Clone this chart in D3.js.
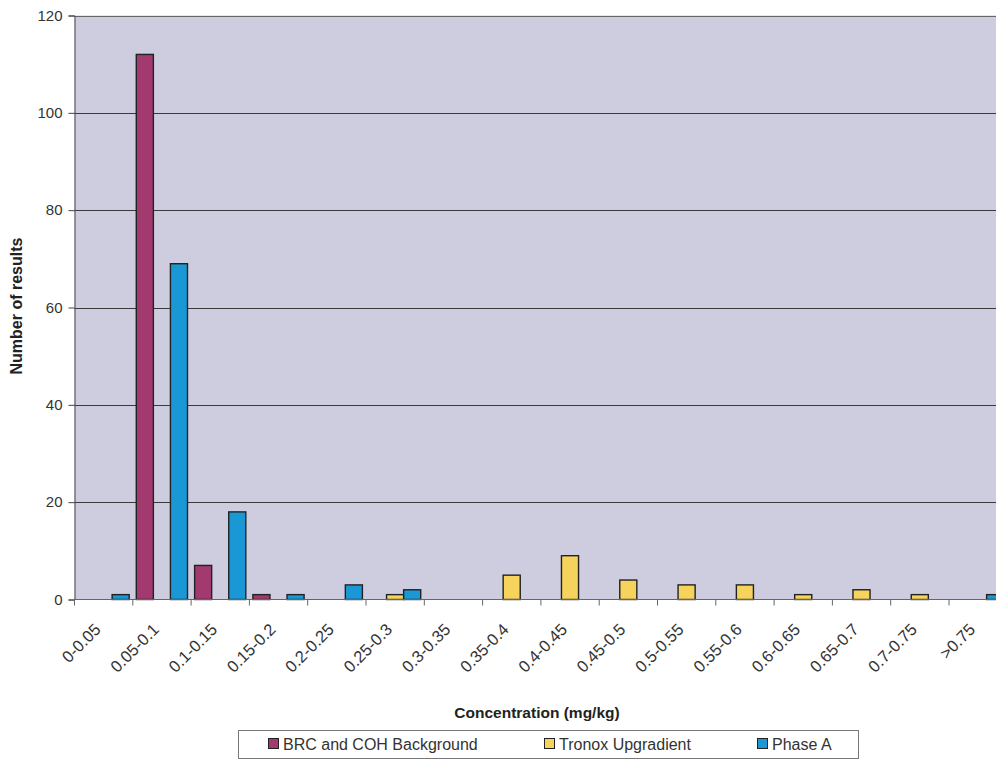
<!DOCTYPE html>
<html>
<head>
<meta charset="utf-8">
<script src="https://cdn.jsdelivr.net/npm/d3@7"></script>
<style>
  html, body { margin: 0; padding: 0; background: #fff; }
  svg { display: block; font-family: "Liberation Sans", Arial, sans-serif; }
</style>
</head>
<body>
<svg id="chart" width="996" height="760"></svg>
<script>
// Concentration bins (mg/kg)
const categories = ["0-0.05", "0.05-0.1", "0.1-0.15", "0.15-0.2", "0.2-0.25", "0.25-0.3",
  "0.3-0.35", "0.35-0.4", "0.4-0.45", "0.45-0.5", "0.5-0.55", "0.55-0.6",
  "0.6-0.65", "0.65-0.7", "0.7-0.75", ">0.75"];

// Number of results per bin for each dataset
const brcBackground = [0, 112, 7, 1, 0, 0, 0, 0, 0, 0, 0, 0, 0, 0, 0, 0];
const tronoxUpgradient = [0, 0, 0, 0, 0, 1, 0, 5, 9, 4, 3, 3, 1, 2, 1, 0];
const phaseA = [1, 69, 18, 1, 3, 2, 0, 0, 0, 0, 0, 0, 0, 0, 0, 1];

const seriesNames = ["BRC and COH Background", "Tronox Upgradient", "Phase A"];
const seriesColors = ["#a23a70", "#f6d35c", "#1a98d6"];
const yTicks = [0, 20, 40, 60, 80, 100, 120];

const series = [brcBackground, tronoxUpgradient, phaseA];

const svg = d3.select("#chart");

const plotLeft = 74.5, plotTop = 15.5, plotBottom = 599.5;
const catWidth = 58.3;
const plotRight = plotLeft + catWidth * categories.length;

const x0 = d3.scaleBand().domain(categories).range([plotLeft, plotRight]).padding(0);
const x1 = d3.scaleBand().domain(d3.range(series.length)).range([3.5, catWidth - 3.6]).padding(0);
const y = d3.scaleLinear().domain([0, 120]).range([plotBottom, plotTop]);

// plot area background
svg.append("rect")
  .attr("x", plotLeft).attr("y", plotTop)
  .attr("width", plotRight - plotLeft).attr("height", plotBottom - plotTop)
  .attr("fill", "#cdcddf");

// horizontal gridlines
svg.append("g")
  .selectAll("line")
  .data(yTicks.filter(t => t > 0))
  .join("line")
  .attr("x1", plotLeft).attr("x2", plotRight)
  .attr("y1", d => Math.round(y(d)) + 0.5).attr("y2", d => Math.round(y(d)) + 0.5)
  .attr("stroke", d => d === 120 ? "#666" : "#3a3a3a")
  .attr("stroke-width", 1);

// bars
const groups = svg.append("g")
  .selectAll("g")
  .data(categories)
  .join("g")
  .attr("transform", d => `translate(${x0(d)},0)`);

groups.selectAll("rect")
  .data((d, i) => series.map((s, k) => ({ k, v: s[i] })).filter(e => e.v > 0))
  .join("rect")
  .attr("x", e => x1(e.k))
  .attr("width", x1.bandwidth())
  .attr("y", e => y(e.v))
  .attr("height", e => y(0) - y(e.v))
  .attr("fill", e => seriesColors[e.k])
  .attr("stroke", "#222")
  .attr("stroke-width", 1.4);

// y axis
const yAxis = d3.axisLeft(y).tickValues(yTicks).tickSize(6).tickPadding(6).tickFormat(d3.format("d"));
const gy = svg.append("g").attr("transform", `translate(${plotLeft},0)`).call(yAxis);
gy.select(".domain").attr("stroke", "#444");
gy.selectAll(".tick line").attr("stroke", "#444");
gy.selectAll(".tick text").attr("font-size", 15).attr("fill", "#333")
  .attr("font-family", "'Liberation Sans', Arial, sans-serif");

// x axis with ticks between categories
const gx = svg.append("g").attr("transform", `translate(0,${plotBottom})`);
gx.append("line")
  .attr("x1", plotLeft).attr("x2", plotRight)
  .attr("stroke", "#666");
gx.selectAll("line.tk")
  .data(d3.range(categories.length + 1))
  .join("line")
  .attr("class", "tk")
  .attr("x1", i => plotLeft + i * catWidth).attr("x2", i => plotLeft + i * catWidth)
  .attr("y1", 0).attr("y2", 6)
  .attr("stroke", "#666");
gx.selectAll("text")
  .data(categories)
  .join("text")
  .attr("transform", d => `translate(${x0(d) + x0.bandwidth() / 2 - 6},${27}) rotate(-45)`)
  .attr("text-anchor", "end")
  .attr("dy", "0.35em")
  .attr("font-size", 16.5)
  .attr("fill", "#333")
  .text(d => d);

// axis titles
svg.append("text")
  .attr("x", 537).attr("y", 718)
  .attr("text-anchor", "middle")
  .attr("font-size", 15.5).attr("font-weight", "bold").attr("fill", "#222")
  .text("Concentration (mg/kg)");

svg.append("text")
  .attr("transform", "translate(22,306) rotate(-90)")
  .attr("text-anchor", "middle")
  .attr("font-size", 16).attr("font-weight", "bold").attr("fill", "#222")
  .text("Number of results");

// legend
const legend = svg.append("g");
legend.append("rect")
  .attr("x", 238.5).attr("y", 730.5).attr("width", 620).attr("height", 28)
  .attr("fill", "#fff").attr("stroke", "#777");
const legendX = [268, 544, 757];
const items = legend.selectAll("g.item")
  .data(seriesNames)
  .join("g")
  .attr("class", "item")
  .attr("transform", (d, i) => `translate(${legendX[i]},744)`);
items.append("rect")
  .attr("x", 0.5).attr("y", -5.5).attr("width", 10).attr("height", 10)
  .attr("fill", (d, i) => seriesColors[i])
  .attr("stroke", "#222").attr("stroke-width", 1);
items.append("text")
  .attr("x", 15).attr("dy", "0.36em")
  .attr("font-size", 16).attr("fill", "#333")
  .text(d => d);
</script>
</body>
</html>
